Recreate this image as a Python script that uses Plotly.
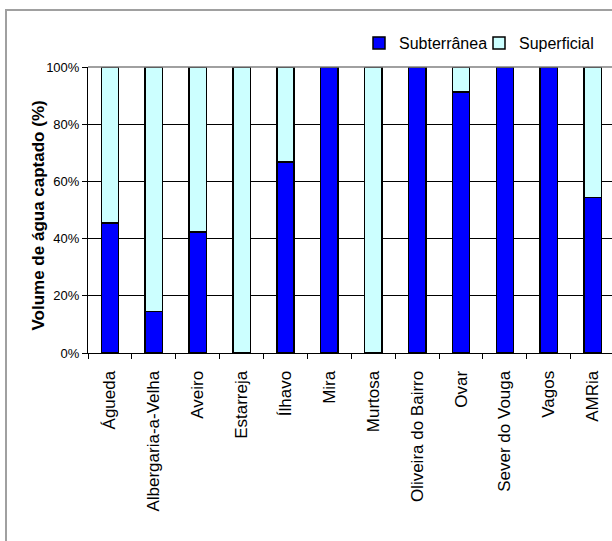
import plotly.graph_objects as go

categories = ["Águeda", "Albergaria-a-Velha", "Aveiro", "Estarreja", "Ílhavo", "Mira",
              "Murtosa", "Oliveira do Bairro", "Ovar", "Sever do Vouga", "Vagos", "AMRia"]
subterranea = [45.5, 14.5, 42.3, 0.0, 66.8, 100.0, 0.0, 100.0, 91.3, 100.0, 100.0, 54.4]
superficial = [100 - v for v in subterranea]
y_ticks = [0, 20, 40, 60, 80, 100]
y_ticklabels = ["0%", "20%", "40%", "60%", "80%", "100%"]

FONT = "Liberation Sans, Arial, sans-serif"
W, H = 612, 541
L, R, T, B = 88, 0, 67, 188
pw, ph = W - L - R, H - T - B

fig = go.Figure()
fig.add_trace(go.Bar(x=categories, y=subterranea, name="Subterrânea",
                     marker=dict(color="#0000ff", line=dict(color="#000000", width=1.5))))
fig.add_trace(go.Bar(x=categories, y=superficial, name="Superficial",
                     marker=dict(color="#ccffff", line=dict(color="#000000", width=1.5))))

def px_x(p):
    return (p - L) / pw

def px_y(p):
    return (H - B - p) / ph

fig.update_layout(
    width=W, height=H,
    margin=dict(l=L, r=R, t=T, b=B, pad=0, autoexpand=False),
    barmode="stack", bargap=0.605,
    paper_bgcolor="white", plot_bgcolor="white",
    font=dict(family=FONT, size=12, color="black"),
    showlegend=True,
    legend=dict(orientation="h", x=px_x(359), xanchor="left", y=px_y(43), yanchor="middle",
                font=dict(family=FONT, size=16, color="black"), itemwidth=30,
                entrywidth=75, entrywidthmode="pixels",
                bgcolor="rgba(0,0,0,0)", traceorder="normal"),
    xaxis=dict(range=[-0.5, 11.44], tickangle=-90, tickson="boundaries", ticks="outside",
               ticklen=5, tickcolor="black", showline=True, linecolor="black", linewidth=1,
               showgrid=False, tickfont=dict(family=FONT, size=17), ticklabelstandoff=10,
               fixedrange=True),
    yaxis=dict(range=[0, 100], tickvals=y_ticks, ticktext=y_ticklabels, ticks="outside",
               ticklen=5, tickcolor="black", showline=True, linecolor="black", linewidth=1,
               showgrid=True, gridcolor="#000000", gridwidth=1, zeroline=False,
               tickfont=dict(family=FONT, size=13), fixedrange=True),
    annotations=[dict(text="<b>Volume de água captado (%)</b>", textangle=-90,
                      xref="paper", yref="paper", x=px_x(37.5), y=px_y(216),
                      xanchor="center", yanchor="middle", showarrow=False,
                      font=dict(family=FONT, size=17, color="black"))],
    shapes=[
        dict(type="line", xref="paper", yref="paper", x0=px_x(88), x1=px_x(615),
             y0=px_y(67), y1=px_y(67), line=dict(color="#808080", width=1.5)),
        dict(type="rect", xref="paper", yref="paper", x0=px_x(6), x1=px_x(640),
             y0=px_y(10), y1=px_y(560), line=dict(color="#a0a0a0", width=2)),
    ],
)

fig.write_html("out.html")
